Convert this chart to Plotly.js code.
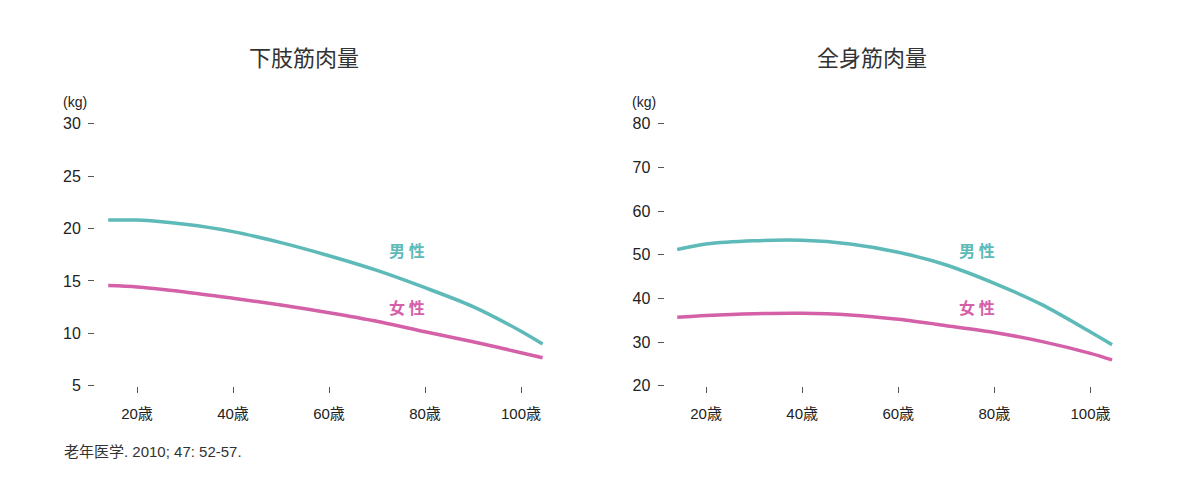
<!DOCTYPE html>
<html>
<head>
<meta charset="utf-8">
<script src="https://cdn.plot.ly/plotly-3.0.1.min.js"></script>
<style>
  html, body { margin: 0; padding: 0; background: #fff; }
  #plot { width: 1200px; height: 488px; }
</style>
</head>
<body>
<div id="plot"></div>
<script>
// ages (both panels share them)
const ages = [14, 20, 30, 40, 50, 60, 70, 80, 90, 100, 104.5]

// 下肢筋肉量 (kg)
const legMale   = [20.8, 20.8, 20.4, 19.7, 18.65, 17.4, 16.0, 14.35, 12.55, 10.2, 8.98]
const legFemale = [14.55, 14.42, 13.94, 13.34, 12.7, 11.97, 11.15, 10.15, 9.2, 8.15, 7.67]

// 全身筋肉量 (kg)
const bodyMale   = [51.2, 52.45, 53.2, 53.3, 52.45, 50.55, 47.65, 43.45, 38.5, 32.3, 29.4]
const bodyFemale = [35.7, 36.1, 36.5, 36.6, 36.2, 35.2, 33.75, 32.2, 30.1, 27.4, 25.9]

const xTicks = [20, 40, 60, 80, 100]
const xTickText = ['20歳', '40歳', '60歳', '80歳', '100歳']
const legTicks = [5, 10, 15, 20, 25, 30]
const bodyTicks = [20, 30, 40, 50, 60, 70, 80]

const TEAL = '#5dbab8'
const PINK = '#d461a8'
const FONT = 'Liberation Sans, Noto Sans CJK JP, sans-serif'
const CJK = 'Noto Sans CJK JP, sans-serif'

const line = (x, y, color, xa, ya) => ({
  x: x, y: y, xaxis: xa, yaxis: ya,
  type: 'scatter', mode: 'lines',
  line: { color: color, width: 3.5, shape: 'spline', smoothing: 0.8 },
  hoverinfo: 'skip'
})

const data = [
  line(ages, legMale, TEAL, 'x', 'y'),
  line(ages, legFemale, PINK, 'x', 'y'),
  line(ages, bodyMale, TEAL, 'x2', 'y2'),
  line(ages, bodyFemale, PINK, 'x2', 'y2')
]

const yDomain = [1 - 385.7 / 488, 1 - 123.7 / 488]

const xAxis = (domain, range) => ({
  domain: domain, range: range,
  tickvals: xTicks, ticktext: xTickText,
  ticks: 'outside', ticklen: 6, tickwidth: 1, tickcolor: '#555',
  ticklabelstandoff: 8,
  showgrid: false, zeroline: false, showline: false,
  tickfont: { size: 15, color: '#222', family: FONT },
  fixedrange: true
})

const yAxis = (anchor, range, ticks) => ({
  domain: yDomain, range: range, anchor: anchor,
  tickvals: ticks,
  ticks: 'outside', ticklen: 6, tickwidth: 1, tickcolor: '#555',
  ticklabelstandoff: 4,
  showgrid: false, zeroline: false, showline: false,
  tickfont: { size: 16, color: '#222', family: FONT },
  fixedrange: true
})

const note = (x, y, text, size, color, xanchor, family) => ({
  xref: 'paper', yref: 'paper', x: x / 1200, y: 1 - y / 488,
  xanchor: xanchor || 'center', yanchor: 'middle',
  text: text, showarrow: false,
  font: { size: size, color: color, family: family || FONT }
})

const layout = {
  width: 1200, height: 488,
  margin: { l: 0, r: 0, t: 0, b: 0 },
  paper_bgcolor: '#fff', plot_bgcolor: '#fff',
  showlegend: false,
  xaxis: xAxis([95 / 1200, 545 / 1200], [11.25, 105]),
  yaxis: yAxis('x', [5, 30], legTicks),
  xaxis2: xAxis([664.5 / 1200, 1114 / 1200], [11.35, 104.9]),
  yaxis2: yAxis('x2', [20, 80], bodyTicks),
  annotations: [
    note(304, 56, '下肢筋肉量', 22, '#333', 'center', CJK),
    note(872, 56, '全身筋肉量', 22, '#333', 'center', CJK),
    note(61, 102, '(kg)', 14, '#222', 'left'),
    note(630, 102, '(kg)', 14, '#222', 'left'),
    note(407, 250, '<b>男 性</b>', 16, TEAL, 'center', CJK),
    note(407, 307, '<b>女 性</b>', 16, PINK, 'center', CJK),
    note(977, 250, '<b>男 性</b>', 16, TEAL, 'center', CJK),
    note(977, 307, '<b>女 性</b>', 16, PINK, 'center', CJK),
    note(62, 451, '老年医学. 2010; 47: 52-57.', 15, '#333', 'left')
  ]
}

Plotly.newPlot('plot', data, layout, { displayModeBar: false, staticPlot: true })
</script>
</body>
</html>
